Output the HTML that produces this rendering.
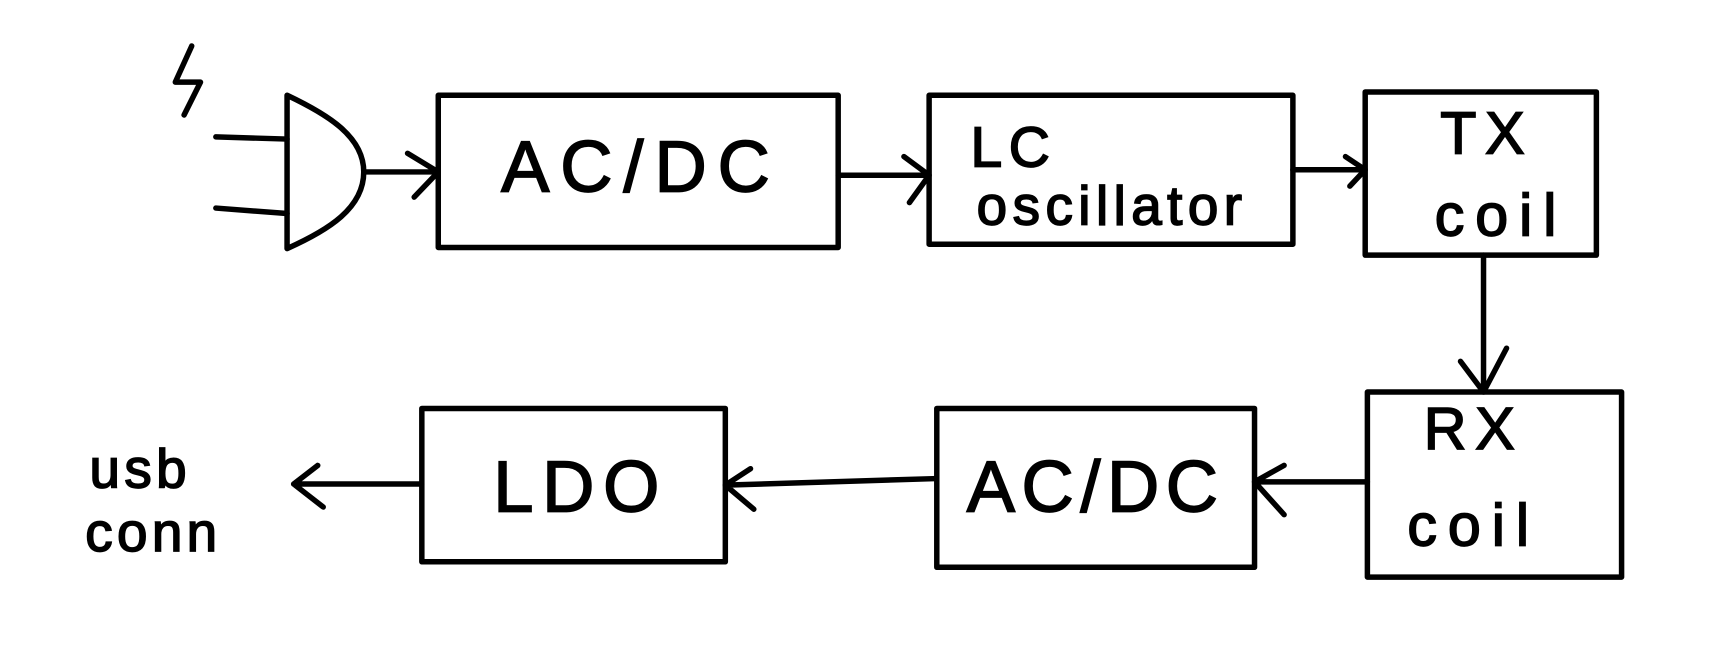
<!DOCTYPE html>
<html><head><meta charset="utf-8"><style>html,body{margin:0;padding:0;background:#fff}svg{display:block}</style></head>
<body>
<svg width="1718" height="668" viewBox="0 0 1568 610" preserveAspectRatio="none" xmlns="http://www.w3.org/2000/svg">
<g fill="none" stroke="#000" stroke-width="5" stroke-linecap="round" stroke-linejoin="round">
<rect x="400" y="87" width="365" height="139"/>
<rect x="848" y="87" width="332" height="136"/>
<rect x="1246" y="84" width="211" height="149"/>
<rect x="1248" y="358" width="232" height="169"/>
<rect x="855" y="373" width="290" height="145"/>
<rect x="385" y="373" width="277" height="140"/>
<path d="M262 87 L262 227 C300 210 332 190 332 157 C332 125 300 105 262 87"/>
<path d="M197 125 L262 127 M197 190 L262 195"/>
<path d="M175 42 L160 75 L183 75 L168 105"/>
<path d="M332 157 L400 157 M372 140 L400 157 L378 180"/>
<path d="M765 160 L848 160 M825 143 L848 160 L830 185"/>
<path d="M1180 155 L1246 155 M1228 143 L1246 155 L1232 170"/>
<path d="M1354 233 L1354 358 M1333 330 L1354 358 L1375 318"/>
<path d="M1248 440 L1145 440 M1172 425 L1145 440 L1172 470"/>
<path d="M855 437 L662 443 M685 428 L662 443 L688 465"/>
<path d="M385 442 L268 442 M290 425 L268 442 L295 463"/>
</g>
<g font-family="Liberation Sans, sans-serif" fill="#000" stroke="#000" stroke-width="1.5" text-anchor="middle">
<text x="585" y="175" font-size="66" letter-spacing="10">AC/DC</text>
<text x="1000" y="467" font-size="66" letter-spacing="6">AC/DC</text>
<text x="530" y="467" font-size="66" letter-spacing="8">LDO</text>
<text x="925" y="152" font-size="52" letter-spacing="6">LC</text>
<text x="1015" y="205" font-size="50" letter-spacing="5">oscillator</text>
<text x="1357" y="140" font-size="54" letter-spacing="8">TX</text>
<text x="1370" y="215" font-size="54" letter-spacing="10">coil</text>
<text x="1345" y="410" font-size="54" letter-spacing="8">RX</text>
<text x="1345" y="498" font-size="54" letter-spacing="10">coil</text>
<text x="128" y="445" font-size="50" letter-spacing="4">usb</text>
<text x="140" y="503" font-size="50" letter-spacing="4">conn</text>
</g>
</svg>
</body></html>
